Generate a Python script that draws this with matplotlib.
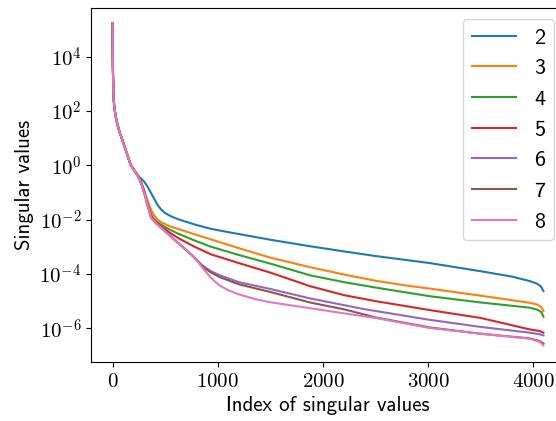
import matplotlib
matplotlib.use("Agg")
from matplotlib import pyplot as plt
from matplotlib.ticker import FixedLocator, FuncFormatter, NullLocator
import numpy as np

plt.rcParams['mathtext.fontset'] = 'cm'
plt.rcParams['font.family'] = ['cmss10', 'DejaVu Sans']
plt.rcParams['axes.unicode_minus'] = False

# shared head of every spectrum: index, log10(singular value)
head_idx = [0, 1, 2, 3, 5, 7, 10, 15, 22, 30, 40, 55, 69, 85, 100, 126, 150, 171, 200, 230]
head_log = [5.23, 4.6, 4.0, 3.6, 3.2, 2.85, 2.5, 2.2, 2.0, 1.8, 1.6, 1.38, 1.19, 1.02, 0.85,
            0.55, 0.27, 0.03, -0.15, -0.32]

labels = ['2', '3', '4', '5', '6', '7', '8']

# shared knee of the three lowest spectra
knee_idx = [260, 300, 335, 367, 410, 462, 540, 620, 700, 779]
knee_log = [-0.55, -1.0, -1.5, -1.93, -2.12, -2.30, -2.57, -2.85, -3.12, -3.40]

tail_idx = {
    '2': [260, 300, 335, 370, 399, 430, 462, 500, 557, 620, 684, 800, 937, 1100, 1300, 1500,
          1877, 2200, 2500, 3017, 3500, 3800, 3964, 4030, 4070, 4095],
    '3': [260, 288, 320, 351, 380, 399, 430, 462, 540, 620, 780, 937, 1200, 1500, 1877, 2200,
          2500, 2800, 3017, 3500, 3964, 4040, 4075, 4095],
    '4': [260, 300, 335, 360, 383, 420, 462, 540, 620, 780, 937, 1200, 1500, 1877, 2200, 2500,
          3017, 3500, 3964, 4040, 4075, 4095],
    '5': [260, 300, 335, 360, 383, 420, 462, 540, 620, 780, 937, 1200, 1500, 1877, 2200, 2500,
          3017, 3500, 3964, 4060, 4095],
    '6': knee_idx + [829, 880, 937, 1020, 1200, 1497, 1877, 2400, 3017, 3500, 3964, 4060, 4095],
    '7': knee_idx + [829, 880, 937, 1020, 1200, 1497, 1877, 2200, 2500, 3017, 3500, 3964, 4060, 4095],
    '8': knee_idx + [829, 870, 920, 970, 1020, 1100, 1200, 1350, 1497, 1877, 2200, 2500, 3017,
                     3500, 3964, 4060, 4095],
}
tail_log = {
    '2': [-0.45, -0.6, -0.8, -1.05, -1.26, -1.47, -1.63, -1.76, -1.88, -1.98, -2.06, -2.2, -2.34,
          -2.46, -2.6, -2.74, -2.98, -3.17, -3.34, -3.6, -3.9, -4.1, -4.26, -4.35, -4.45, -4.63],
    '3': [-0.5, -0.77, -1.15, -1.5, -1.75, -1.86, -2.0, -2.1, -2.24, -2.34, -2.54, -2.73, -3.05,
          -3.4, -3.75, -4.02, -4.25, -4.43, -4.54, -4.8, -5.06, -5.13, -5.22, -5.37],
    '4': [-0.52, -0.95, -1.45, -1.75, -1.93, -2.08, -2.19, -2.36, -2.51, -2.77, -3.0, -3.3, -3.62,
          -4.05, -4.3, -4.5, -4.82, -5.05, -5.24, -5.32, -5.4, -5.57],
    '5': [-0.52, -0.97, -1.5, -1.8, -1.97, -2.12, -2.25, -2.47, -2.67, -3.0, -3.28, -3.6, -3.95,
          -4.45, -4.78, -5.0, -5.33, -5.62, -6.04, -6.1, -6.16],
    '6': knee_log + [-3.6, -3.76, -3.9, -4.05, -4.3, -4.55, -4.9, -5.3, -5.69, -5.95, -6.16, -6.22, -6.26],
    '7': knee_log + [-3.62, -3.8, -3.95, -4.12, -4.38, -4.66, -5.05, -5.3, -5.6, -5.97, -6.2, -6.37,
                     -6.47, -6.56],
    '8': knee_log + [-3.64, -3.85, -4.07, -4.27, -4.43, -4.6, -4.75, -4.92, -5.04, -5.26, -5.45,
                     -5.62, -5.99, -6.2, -6.38, -6.5, -6.63],
}

fig = plt.figure(figsize=(5.56, 4.21), dpi=100)
ax = fig.add_axes([91/556, 59/421, 474/556, 354/421])

for lab in labels:
    x = head_idx + tail_idx[lab]
    y = 10.0 ** np.array(head_log + tail_log[lab])
    ax.plot(x, y, lw=1.5, label=lab)

ax.set_yscale('log')
ax.set_xlim(-205, 4300)
ax.set_ylim(10**-7.24, 10**5.79)

ax.xaxis.set_major_locator(FixedLocator([0, 1000, 2000, 3000, 4000]))
ax.xaxis.set_major_formatter(FuncFormatter(lambda v, p: r'$%d$' % v))
ax.yaxis.set_major_locator(FixedLocator([1e-6, 1e-4, 1e-2, 1e0, 1e2, 1e4]))
ax.yaxis.set_major_formatter(FuncFormatter(lambda v, p: r'$10^{%d}$' % round(np.log10(v))))
ax.yaxis.set_minor_locator(NullLocator())
ax.tick_params(labelsize=15)

ax.set_xlabel('Index of singular values', fontsize=15)
ax.set_ylabel('Singular values', fontsize=15)
ax.legend(loc='upper right', fontsize=16)

plt.savefig('out.png', dpi=100)
